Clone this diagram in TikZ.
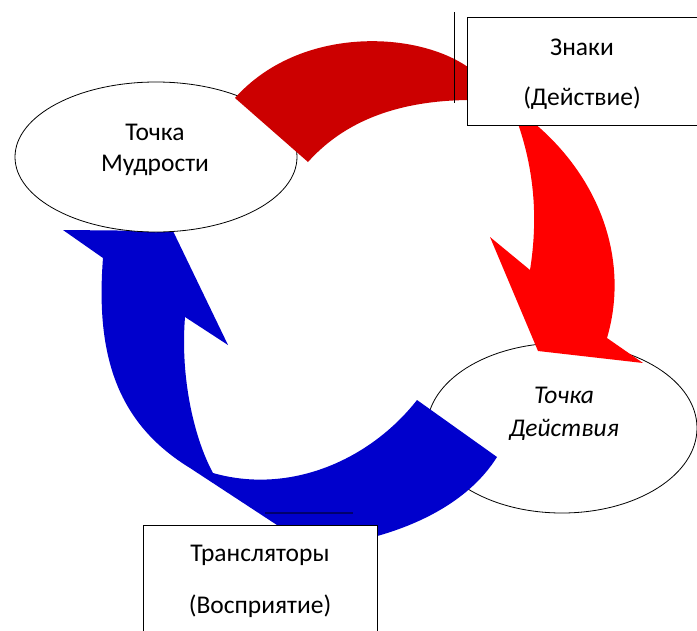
\documentclass[tikz,border=0pt]{standalone}
\usepackage{fontspec}
\setmainfont{Carlito}
\usetikzlibrary{shapes.geometric}
\definecolor{darkred}{RGB}{204,0,0}
\definecolor{brightred}{RGB}{255,0,0}
\definecolor{arrowblue}{RGB}{0,0,204}
\definecolor{navyline}{RGB}{0,0,110}
\begin{document}
\begin{tikzpicture}[x=1pt,y=-1pt,
  txt/.style={font=\fontsize{25.5}{30}\selectfont, inner sep=0pt},
  itxt/.style={font=\fontsize{25.5}{30}\selectfont\itshape, inner sep=0pt},
  oval/.style={draw=black, line width=0.8pt, fill=white, ellipse, inner sep=0pt},
  boxst/.style={draw=black, line width=0.8pt, fill=white, inner sep=0pt}]
\useasboundingbox (0,0) rectangle (697,630);
\fill[white] (0,0) rectangle (697,630);

% ellipse "Tochka Deistviya"
\node[oval, minimum width=270pt, minimum height=170pt] (eD) at (562,428) {};

% bright red arrow
\fill[brightred] (516,118) -- (528,118)
  .. controls (600,175) and (630,260) .. (607,338)
  -- (643,363) -- (538,351) -- (490,237) -- (530,270)
  .. controls (538,220) and (535,170) .. (516,118) -- cycle;

% blue arrow
\fill[arrowblue] (417,400) -- (497,457)
  .. controls (470,500) and (420,525) .. (370,538)
  -- (330,545) -- (280,527) -- (190,468)
  .. controls (120,425) and (95,360) .. (103,258)
  -- (63,230) -- (173,231) -- (228,345) -- (185,317)
  .. controls (180,380) and (195,440) .. (213,473)
  .. controls (290,495) and (370,460) .. (417,400)
  -- cycle;

% ellipse "Tochka Mudrosti"
\node[oval, minimum width=282pt, minimum height=150pt] (eM) at (156,157) {};

% dark red arrow
\fill[darkred] (235,98) -- (308,162)
  .. controls (350,115) and (410,100) .. (472,100)
  -- (472,70)
  .. controls (420,30) and (300,25) .. (235,98)
  -- cycle;

% boxes
\node[boxst, minimum width=245pt, minimum height=108pt, anchor=north west] (bZ) at (467,17) {};
\node[boxst, minimum width=234pt, minimum height=125pt, anchor=north west] (bT) at (143,525) {};

% stray lines
\coordinate (v1) at (454,12);
\coordinate (v2) at (454,103);
\draw[black, line width=0.8pt] (v1) -- (v2);
\coordinate (h1) at (265,513);
\coordinate (h2) at (353,513);
\draw[navyline, line width=1.6pt] (h1) -- (h2);

% texts
\node[txt] (tZ1) at (582,47) {Знаки};
\node[txt] (tZ2) at (582,98) {(Действие)};
\node[txt] (tM1) at (155,132) {Точка};
\node[txt] (tM2) at (155,165) {Мудрости};
\node[itxt] (tD1) at (564,395) {Точка};
\node[itxt] (tD2) at (564,430) {Действия};
\node[txt] (tT1) at (260,555) {Трансляторы};
\node[txt] (tT2) at (260,606) {(Восприятие)};
\end{tikzpicture}
\end{document}
